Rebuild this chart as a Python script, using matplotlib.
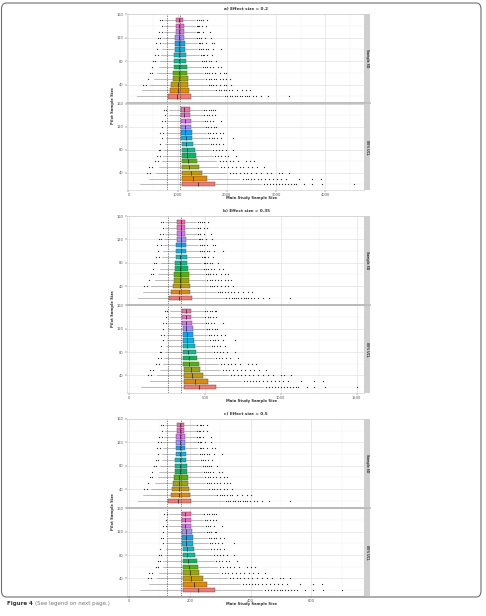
import numpy as np
import matplotlib.pyplot as plt
from matplotlib.patches import FancyBboxPatch
from matplotlib.lines import Line2D

W, H = 486, 616

pilot = [20, 30, 40, 50, 60, 70, 80, 90, 100, 110, 120, 130, 140, 150]
colors = ["#F8766D", "#E38900", "#C49A00", "#99A800", "#53B400", "#00BC56", "#00C094",
          "#00BFC4", "#00B6EB", "#06A4FF", "#A58AFF", "#DF70F8", "#FB61D7", "#FF66A8"]
facet_names = ["Sample SD", "80% UCL"]

# ---------- panel a (effect size 0.2) ----------
a_top_lo = [175, 276, 444, 525, 579, 613, 633, 660, 673, 680, 700, 714, 727, 727]
a_top_q1 = [795, 848, 875, 896, 909, 923, 929, 936, 943, 949, 956, 963, 970, 970]
a_top_med = [997, 1010, 1017, 1024, 1024, 1030, 1030, 1030, 1037, 1037, 1037, 1037, 1037, 1037]
a_top_q3 = [1266, 1232, 1219, 1205, 1199, 1185, 1172, 1165, 1152, 1145, 1138, 1131, 1125, 1118]
a_top_hi = [1926, 1758, 1589, 1535, 1508, 1481, 1455, 1428, 1401, 1387, 1374, 1360, 1360, 1354]
a_top_out = [
    [1960, 2010, 2060, 2110, 2160, 2210, 2260, 2310, 2360, 2410, 2460, 2530, 2600, 2700, 2840, 3270],
    [1790, 1840, 1890, 1940, 1990, 2050, 2100, 2200, 2300, 2400, 2480],
    [296, 364, 1630, 1680, 1720, 1780, 1860, 1940, 1990, 2090],
    [391, 1580, 1630, 1670, 1730, 1790, 1860, 1930, 1990, 2060],
    [431, 478, 1550, 1600, 1640, 1700, 1760, 1860, 1940, 1990],
    [478, 1520, 1560, 1600, 1650, 1710, 1820, 1890],
    [498, 545, 1500, 1540, 1580, 1630, 1670, 1790],
    [545, 593, 1470, 1510, 1540, 1600, 1690],
    [579, 1440, 1480, 1520, 1580, 1620, 1720, 1890],
    [566, 633, 1430, 1460, 1500, 1580, 1690, 1740],
    [593, 646, 1400, 1440, 1470, 1550, 1670],
    [620, 673, 1390, 1420, 1440, 1510, 1660],
    [673, 1390, 1420, 1440, 1500, 1580],
    [646, 687, 1390, 1430, 1470, 1510, 1590],
]
a_bot_lo = [229, 411, 560, 620, 680, 700, 720, 740, 760, 770, 790, 800, 820, 820]
a_bot_q1 = [1098, 1098, 1098, 1098, 1091, 1091, 1084, 1084, 1077, 1077, 1077, 1071, 1071, 1071]
a_bot_med = [1407, 1320, 1266, 1239, 1212, 1199, 1185, 1172, 1165, 1158, 1152, 1145, 1138, 1138]
a_bot_q3 = [1751, 1589, 1495, 1428, 1401, 1374, 1347, 1320, 1300, 1293, 1279, 1266, 1253, 1253]
a_bot_hi = [2700, 2250, 1990, 1830, 1790, 1720, 1680, 1630, 1600, 1580, 1550, 1530, 1508, 1508]
a_bot_out = [
    [2760, 2820, 2880, 2940, 3000, 3060, 3120, 3180, 3240, 3300, 3360, 3414, 3576, 3737, 3939, 4586],
    [2320, 2380, 2440, 2500, 2560, 2630, 2700, 2780, 2860, 2940, 3020, 3110, 3210, 3475, 3740, 3920],
    [377, 444, 2060, 2120, 2190, 2260, 2340, 2420, 2500, 2600, 2700, 2810, 2900, 3070, 3130, 3270],
    [411, 478, 1890, 1950, 2020, 2100, 2180, 2260, 2330, 2430, 2520, 2620, 2760],
    [545, 593, 1860, 1920, 1990, 2060, 2130, 2230, 2397, 2470, 2560],
    [579, 633, 1760, 1820, 1880, 1960, 2030, 2195],
    [613, 646, 1720, 1780, 1840, 1900, 1980, 2128],
    [633, 1670, 1720, 1780, 1840, 1930],
    [680, 1640, 1690, 1740, 1800, 1890, 2128],
    [646, 700, 1620, 1660, 1720, 1770, 1860, 1926],
    [680, 1575, 1620, 1670, 1740, 1770],
    [680, 747, 1555, 1600, 1650, 1720, 1890],
    [747, 1540, 1590, 1640, 1700, 1760],
    [714, 768, 1535, 1580, 1630, 1680, 1724, 1758],
]

# ---------- panel b (effect size 0.35) ----------
b_top_lo = [57, 90, 145, 171, 189, 200, 207, 215, 220, 222, 229, 233, 237, 237]
b_top_q1 = [260, 277, 286, 293, 297, 301, 303, 306, 308, 310, 312, 314, 317, 317]
b_top_med = [326, 330, 332, 334, 334, 336, 336, 336, 339, 339, 339, 339, 339, 339]
b_top_q3 = [413, 402, 398, 393, 391, 387, 383, 380, 376, 374, 372, 369, 367, 365]
b_top_hi = [629, 574, 519, 501, 492, 484, 475, 466, 457, 453, 449, 444, 444, 442]
b_top_out = [
    [640, 655, 675, 690, 705, 720, 740, 755, 770, 785, 800, 820, 850, 880, 920, 1060],
    [585, 600, 615, 635, 650, 670, 690, 720, 750, 785, 810],
    [97, 119, 532, 548, 562, 581, 607, 633, 650, 682],
    [128, 516, 532, 546, 565, 585, 607, 630, 650, 673],
    [141, 156, 506, 522, 535, 555, 575, 607, 633, 650],
    [156, 496, 509, 522, 539, 558, 594, 617],
    [163, 178, 490, 503, 516, 532, 546, 585],
    [178, 194, 480, 493, 503, 522, 552],
    [189, 470, 483, 496, 516, 529, 562, 617],
    [185, 207, 467, 477, 490, 516, 552, 568],
    [194, 211, 457, 470, 480, 506, 545],
    [202, 220, 454, 464, 470, 493, 542],
    [220, 454, 464, 470, 490, 516],
    [211, 224, 454, 467, 480, 493, 519],
]
b_bot_lo = [75, 134, 183, 202, 222, 229, 235, 242, 248, 251, 258, 261, 268, 268]
b_bot_q1 = [358, 358, 358, 358, 356, 356, 354, 354, 352, 352, 352, 350, 350, 350]
b_bot_med = [459, 431, 413, 405, 396, 391, 387, 383, 380, 378, 376, 374, 372, 372]
b_bot_q3 = [572, 519, 488, 466, 457, 449, 440, 431, 424, 422, 418, 413, 409, 409]
b_bot_hi = [882, 735, 650, 597, 584, 562, 549, 532, 522, 516, 506, 500, 492, 492]
b_bot_out = [
    [900, 920, 940, 960, 980, 1000, 1020, 1040, 1060, 1080, 1100, 1115, 1170, 1220, 1290, 1500],
    [757, 777, 797, 816, 836, 859, 882, 908, 934, 960, 986, 1015, 1048, 1135, 1220, 1280],
    [123, 145, 673, 692, 715, 738, 764, 790, 816, 849, 882, 918, 947, 1002, 1022, 1068],
    [134, 156, 617, 637, 660, 686, 712, 738, 761, 794, 823, 855, 901],
    [178, 194, 607, 627, 650, 673, 695, 728, 783, 807, 838],
    [189, 207, 575, 594, 614, 640, 663, 717],
    [200, 211, 562, 581, 601, 620, 646, 695],
    [207, 545, 562, 581, 601, 630],
    [222, 535, 552, 568, 588, 617, 695],
    [211, 229, 529, 542, 562, 578, 607, 629],
    [222, 514, 529, 545, 568, 578],
    [222, 244, 508, 522, 539, 562, 617],
    [244, 503, 519, 535, 555, 575],
    [233, 251, 501, 516, 532, 548, 563, 574],
]

# ---------- panel c (effect size 0.5) ----------
c_top_lo = [28, 45, 72, 85, 94, 99, 103, 107, 109, 110, 113, 116, 118, 118]
c_top_q1 = [129, 137, 142, 145, 147, 150, 150, 152, 153, 154, 155, 156, 157, 157]
c_top_med = [162, 164, 165, 166, 166, 167, 167, 167, 168, 168, 168, 168, 168, 168]
c_top_q3 = [205, 200, 197, 195, 194, 192, 190, 189, 187, 185, 184, 183, 182, 181]
c_top_hi = [312, 285, 257, 249, 244, 240, 236, 231, 227, 225, 223, 220, 220, 219]
c_top_out = [
    [318, 326, 334, 342, 350, 358, 366, 374, 382, 390, 398, 410, 421, 437, 460, 530],
    [290, 298, 306, 314, 322, 332, 340, 356, 372, 389, 402],
    [48, 59, 264, 272, 279, 288, 301, 314, 322, 339],
    [63, 256, 264, 271, 280, 290, 301, 313, 322, 334],
    [70, 77, 251, 259, 266, 275, 285, 301, 314, 322],
    [77, 246, 253, 259, 267, 277, 295, 306],
    [81, 88, 243, 249, 256, 264, 271, 290],
    [88, 96, 238, 245, 249, 259, 274],
    [94, 233, 240, 246, 256, 262, 279, 306],
    [92, 103, 232, 237, 243, 256, 274, 282],
    [96, 105, 227, 233, 238, 251, 271],
    [100, 109, 225, 230, 233, 245, 269],
    [109, 225, 230, 233, 243, 256],
    [105, 111, 225, 232, 238, 245, 258],
]
c_bot_lo = [37, 67, 91, 100, 110, 113, 117, 120, 123, 125, 128, 130, 133, 133]
c_bot_q1 = [178, 178, 178, 178, 177, 177, 176, 176, 174, 174, 174, 173, 173, 173]
c_bot_med = [228, 214, 205, 201, 196, 194, 192, 190, 189, 188, 187, 185, 184, 184]
c_bot_q3 = [284, 257, 242, 231, 227, 223, 218, 214, 211, 209, 207, 205, 203, 203]
c_bot_hi = [437, 365, 322, 296, 290, 279, 272, 264, 259, 256, 251, 248, 244, 244]
c_bot_out = [
    [447, 457, 467, 476, 486, 496, 505, 515, 525, 535, 544, 553, 579, 605, 638, 700],
    [374, 384, 395, 405, 415, 426, 437, 450, 463, 476, 489, 504, 520, 563, 606, 635],
    [61, 72, 334, 343, 355, 366, 379, 392, 405, 421, 437, 455, 470, 497, 507, 530],
    [67, 77, 306, 316, 327, 340, 353, 366, 377, 394, 408, 424, 447],
    [88, 96, 301, 311, 322, 334, 345, 361, 388, 400, 415],
    [94, 103, 285, 295, 305, 318, 329, 356],
    [99, 105, 279, 288, 298, 308, 321, 345],
    [103, 271, 279, 288, 298, 313],
    [110, 266, 274, 282, 292, 306, 345],
    [105, 113, 262, 269, 279, 287, 301, 312],
    [110, 255, 262, 270, 282, 287],
    [110, 121, 252, 259, 267, 279, 306],
    [121, 249, 257, 265, 275, 285],
    [116, 124, 248, 256, 264, 272, 279, 285],
]

titles = ["a) Effect size = 0.2", "b) Effect size = 0.35", "c) Effect size = 0.5"]
xlims = [(-30, 4790), (-15, 1549), (-7, 774)]
xticks = [[0, 1000, 2000, 3000, 4000], [0, 500, 1000, 1500], [0, 200, 400, 600]]
ref_lines = [[786, 1052], [257, 344], [126, 170]]

panels = [
    [(a_top_lo, a_top_q1, a_top_med, a_top_q3, a_top_hi, a_top_out),
     (a_bot_lo, a_bot_q1, a_bot_med, a_bot_q3, a_bot_hi, a_bot_out)],
    [(b_top_lo, b_top_q1, b_top_med, b_top_q3, b_top_hi, b_top_out),
     (b_bot_lo, b_bot_q1, b_bot_med, b_bot_q3, b_bot_hi, b_bot_out)],
    [(c_top_lo, c_top_q1, c_top_med, c_top_q3, c_top_hi, c_top_out),
     (c_bot_lo, c_bot_q1, c_bot_med, c_bot_q3, c_bot_hi, c_bot_out)],
]
# pixel layout: (top, divider, bottom) of each panel
rows_px = [(14, 103, 190), (216, 304.5, 393), (419, 507.5, 596)]
X0, X1, XS = 127, 364, 370


def rect(x0, yt, x1, yb):
    return [x0 / W, 1 - yb / H, (x1 - x0) / W, (yb - yt) / H]


fig = plt.figure(figsize=(W / 100, H / 100), dpi=100)

for p in range(3):
    top, mid, bot = rows_px[p]
    spans = [(top, mid - 0.8), (mid + 0.8, bot)]
    for f in range(2):
        lo, q1, med, q3, hi, out = panels[p][f]
        ax = fig.add_axes(rect(X0, spans[f][0], X1, spans[f][1]))
        stats = [dict(whislo=lo[i], q1=q1[i], med=med[i], q3=q3[i], whishi=hi[i],
                      fliers=np.array(out[i])) for i in range(len(pilot))]
        res = ax.bxp(stats, positions=pilot, widths=7.6, orientation='horizontal',
                     patch_artist=True, showcaps=False, manage_ticks=False,
                     boxprops=dict(edgecolor='#555555', linewidth=0.35),
                     whiskerprops=dict(color='#8a8a8a', linewidth=0.4),
                     medianprops=dict(color='#333333', linewidth=0.6),
                     flierprops=dict(marker='o', markersize=0.9, markerfacecolor='#222222',
                                     markeredgecolor='none'))
        for patch, c in zip(res['boxes'], colors):
            patch.set_facecolor(c)
        for xv in ref_lines[p]:
            ax.axvline(xv, color='#444444', lw=0.45, ls=(0, (2.2, 1.6)), zorder=5)
        ax.set_xlim(xlims[p])
        ax.set_ylim(10, 160)
        ax.set_yticks([40, 80, 120, 160])
        ax.set_xticks(xticks[p])
        step = xticks[p][1] - xticks[p][0]
        ax.set_xticks(np.arange(step / 2, xlims[p][1], step), minor=True)
        ax.set_yticks([20, 60, 100, 140], minor=True)
        ax.grid(True, which='major', color='#e2e2e2', lw=0.5)
        ax.grid(True, which='minor', color='#f1f1f1', lw=0.35)
        ax.set_axisbelow(True)
        ax.tick_params(which='major', labelsize=2.6, length=1.5, width=0.35,
                       colors='#555555', pad=1)
        ax.tick_params(which='minor', length=0)
        if f == 0:
            ax.tick_params(axis='x', labelbottom=False, length=0)
        for s in ax.spines.values():
            s.set_color('#c8c8c8')
            s.set_linewidth(0.4)
        # facet strip
        sax = fig.add_axes(rect(X1, spans[f][0], XS, spans[f][1]))
        sax.set_facecolor('#cfcfcf')
        sax.set_xticks([])
        sax.set_yticks([])
        for s in sax.spines.values():
            s.set_visible(False)
        sax.text(0.5, 0.5, facet_names[f], rotation=-90, ha='center', va='center',
                 fontsize=2.2, color='#333333', fontweight='bold', transform=sax.transAxes)
    # divider between facets
    fig.add_artist(Line2D([X0 / W, XS / W], [1 - mid / H] * 2, color='#b5b5b5', lw=1.2))
    fig.text(246 / W, 1 - (top - 3) / H, titles[p], ha='center', va='bottom',
             fontsize=3, fontweight='bold', color='#333333')
    fig.text(252 / W, 1 - (bot + 8) / H, "Main Study Sample Size", ha='center', va='center',
             fontsize=2.7, fontweight='bold', color='#333333')
    fig.text(113 / W, 1 - ((top + bot) / 2 + 4) / H, "Pilot Sample Size", rotation=90,
             ha='center', va='center', fontsize=2.7, fontweight='bold', color='#333333')

# page frame and caption
frame = FancyBboxPatch((1.5 / W, 1 - 597 / H), 479.5 / W, 594 / H,
                       boxstyle="round,pad=0,rounding_size=0.01", transform=fig.transFigure,
                       facecolor='none', edgecolor='#6f6f6f', lw=0.8)
fig.add_artist(frame)
cap1 = fig.text(7 / W, 1 - 604 / H, "Figure 4", fontsize=4.0, fontweight='bold',
                color='#333333', va='center', ha='left')
renderer = fig.canvas.get_renderer()
x_end = cap1.get_window_extent(renderer).x1
fig.text((x_end + 2) / W, 1 - 604 / H, "(See legend on next page.)", fontsize=4.0,
         color='#777777', va='center', ha='left')

fig.savefig("out.png", dpi=100)
